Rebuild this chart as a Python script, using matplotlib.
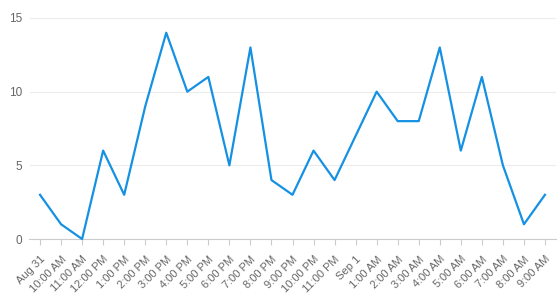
import matplotlib.pyplot as plt

plt.rcParams["font.family"] = ["Liberation Sans", "DejaVu Sans"]

labels = ["Aug 31", "10:00 AM", "11:00 AM", "12:00 PM", "1:00 PM", "2:00 PM",
          "3:00 PM", "4:00 PM", "5:00 PM", "6:00 PM", "7:00 PM", "8:00 PM",
          "9:00 PM", "10:00 PM", "11:00 PM", "Sep 1", "1:00 AM", "2:00 AM",
          "3:00 AM", "4:00 AM", "5:00 AM", "6:00 AM", "7:00 AM", "8:00 AM",
          "9:00 AM"]
values = [3, 1, 0, 6, 3, 9, 14, 10, 11, 5, 13, 4, 3, 6, 4, 7, 10, 8, 8, 13,
          6, 11, 5, 1, 3]

fig = plt.figure(figsize=(5.58, 3.04), dpi=100)
ax = fig.add_axes([29.5 / 558, 65 / 304, 526 / 558, 221 / 304])

x = list(range(len(values)))
ax.plot(x, values, color="#1591e4", linewidth=1.6, clip_on=False, zorder=3)

ax.set_xlim(-0.5, len(values) - 0.5)
ax.set_ylim(0, 15)
ax.set_yticks([0, 5, 10, 15])
ax.set_xticks(x)
ax.set_xticklabels(labels, rotation=45, ha="right", rotation_mode="anchor")

ax.grid(axis="y", color="#ececec", linewidth=0.8)
ax.set_axisbelow(True)
for s in ["top", "right", "left"]:
    ax.spines[s].set_visible(False)
ax.spines["bottom"].set_color("#cccccc")
ax.tick_params(axis="x", colors="#cccccc", length=4, labelcolor="#666666",
               labelsize=8, pad=7)
ax.tick_params(axis="y", length=0, labelcolor="#666666", labelsize=8.5, pad=5)

fig.savefig("out.png", dpi=100)
